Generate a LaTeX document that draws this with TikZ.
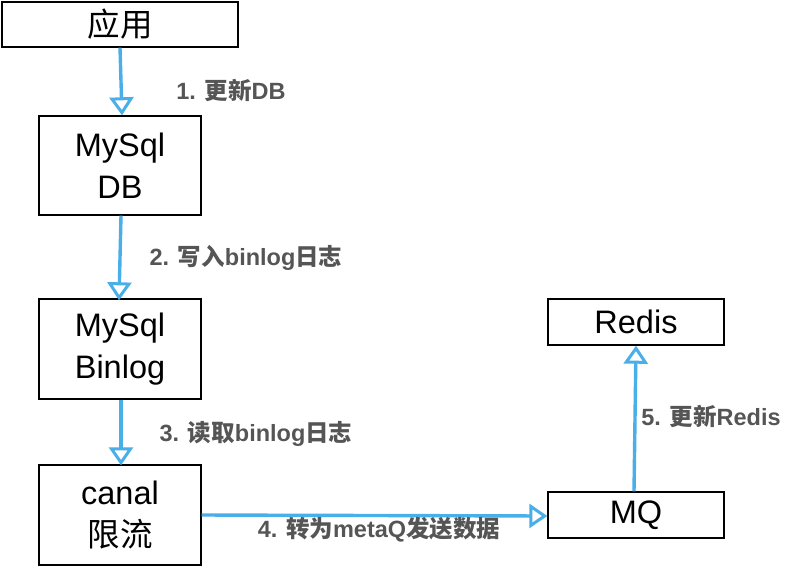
\documentclass[tikz,border=0pt]{standalone}
\usepackage{fontspec}
\setmainfont{Liberation Sans}
\newfontfamily\cjk{Noto Sans CJK SC}
\usetikzlibrary{arrows.meta}
\definecolor{flowblue}{HTML}{4AAEE8}
\definecolor{labelgray}{HTML}{555555}
\begin{document}
\begin{tikzpicture}[x=1pt,y=-1pt,
  box/.style={draw=black,line width=1.4pt,fill=white,inner sep=0pt,font=\fontsize{32.5}{42}\selectfont,align=center},
  flow/.style={draw=flowblue,line width=3.4pt,-{Triangle[open,width=24pt,length=18pt,line width=3pt]}},
  lbl/.style={font=\bfseries\fontsize{23.5}{28}\selectfont,text=labelgray,inner sep=0pt}]
\useasboundingbox (0,0) rectangle (794,568);
\node[box,minimum width=236pt,minimum height=45pt] (app) at (120,24.5) {\cjk 应用};
\node[box,minimum width=162pt,minimum height=99pt] (db) at (120,165.5) {MySql\\DB};
\node[box,minimum width=162pt,minimum height=100pt] (binlog) at (120,349) {MySql\\Binlog};
\node[box,minimum width=162pt,minimum height=100pt] (canal) at (120,515) {canal\\{\cjk 限流}};
\node[box,minimum width=176pt,minimum height=46pt] (redis) at (636,322) {Redis};
\node[box,minimum width=176pt,minimum height=46pt] (mq) at (636,515) {MQ};
\draw[flow] (app.south) -- ([xshift=2pt]db.north);
\draw[flow] ([xshift=1pt]db.south) -- ([xshift=-1pt,yshift=-2pt]binlog.north);
\draw[flow] ([xshift=1pt]binlog.south) -- ([xshift=1pt,yshift=-1pt]canal.north);
\draw[flow] (canal.east) -- ([yshift=-1pt]mq.west);
\draw[flow] ([xshift=-2pt]mq.north) -- (redis.south);
\node[lbl] (l1) at (231,90) {1. {\cjk 更新}DB};
\node[lbl] (l2) at (246,258) {2. {\cjk 写入}binlog{\cjk 日志}};
\node[lbl] (l3) at (256,434) {3. {\cjk 读取}binlog{\cjk 日志}};
\node[lbl] (l4) at (379,530) {4. {\cjk 转为}metaQ{\cjk 发送数据}};
\node[lbl] (l5) at (711,416) {5. {\cjk 更新}Redis};
\end{tikzpicture}
\end{document}
